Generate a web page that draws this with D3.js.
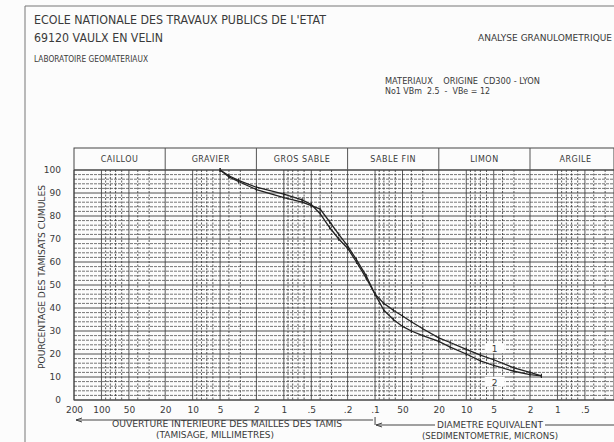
<!DOCTYPE html>
<html>
<head>
<meta charset="utf-8">
<script src="https://cdn.jsdelivr.net/npm/d3@7"></script>
<style>
  body { margin: 0; background: #fcfcfc; }
  svg { display: block; }
  text { font-family: "DejaVu Sans", sans-serif; fill: #3a3a3a; white-space: pre; }
</style>
</head>
<body>
<svg id="chart" width="614" height="442"></svg>
<script>
// --- data (sizes in mm, passing percent) ---
const sizes = [5, 4, 3.15, 2, 1, 0.63, 0.5, 0.4, 0.315, 0.25, 0.2, 0.16, 0.125, 0.1, 0.08, 0.063,
               0.05, 0.04, 0.03, 0.02, 0.015, 0.01, 0.007, 0.005, 0.003, 0.002, 0.0015];
const curve1 = [100, 97.5, 95.5, 92.5, 89.5, 87, 85, 81, 75, 70, 66, 60, 53, 46, 42, 39,
                36.5, 34, 31, 27, 25, 22, 19.5, 17.5, 14, 12, 10.5];
const curve2 = [100, 97, 95, 91.5, 88, 86, 84.5, 83, 77.5, 72, 67, 61, 54, 46, 39, 35,
                32, 30, 28, 25.5, 23, 20, 17, 15, 12.5, 11, 10.5];
const classNames = ["CAILLOU", "GRAVIER", "GROS SABLE", "SABLE FIN", "LIMON", "ARGILE"];
const classBounds = [200, 20, 2, 0.2, 0.02, 0.002, 0.0002];
const tickSizes = [200, 100, 50, 20, 10, 5, 2, 1, 0.5, 0.2, 0.1, 0.05, 0.02, 0.01, 0.005, 0.002, 0.001, 0.0005];
const tickLabels = ["200", "100", "50", "20", "10", "5", "2", "1", ".5", ".2", ".1", "50", "20", "10", "5", "2", "1", ".5"];
const yTicks = [0, 10, 20, 30, 40, 50, 60, 70, 80, 90, 100];

const svg = d3.select("#chart");

// --- scales ---
const x = d3.scaleLog().domain([200, 0.0002]).range([74, 74 + 91.2 * 6]);
const y = d3.scaleLinear().domain([0, 100]).range([400, 170]);
const headerTop = 148;

// --- frame ---
svg.append("path")
    .attr("d", "M25,442 V6 H614")
    .attr("fill", "none").attr("stroke", "#777").attr("stroke-width", 1);

// --- header text ---
function txt(s, xx, yy, size, len, anchor) {
    const t = svg.append("text").attr("x", xx).attr("y", yy)
        .style("font-size", size + "px").text(s);
    if (len) t.attr("textLength", len).attr("lengthAdjust", "spacingAndGlyphs");
    if (anchor) t.attr("text-anchor", anchor);
    return t;
}
txt("ECOLE NATIONALE DES TRAVAUX PUBLICS DE L'ETAT", 34, 24, 12, 292);
txt("69120 VAULX EN VELIN", 34, 42, 12, 129);
txt("ANALYSE GRANULOMETRIQUE", 478, 41, 8, 134);
txt("LABORATOIRE GEOMATERIAUX", 34, 62, 8, 114);
txt("MATERIAUX    ORIGINE  CD300 - LYON", 385, 84, 8, 155);
txt("No1 VBm  2.5  -  VBe = 12", 385, 94, 8, 105);

// --- grid ---
const grid = svg.append("g");
const hLines = d3.range(0, 101, 2);
grid.selectAll(".h").data(hLines).enter().append("line")
    .attr("x1", x(200)).attr("x2", 614)
    .attr("y1", d => y(d)).attr("y2", d => y(d))
    .attr("stroke", "#3c3c3c")
    .attr("stroke-width", d => d % 10 === 0 ? 0.9 : 0.7)
    .attr("stroke-dasharray", d => d % 10 === 0 ? null : "3,1");

const vVals = [];
for (let e = 2; e >= -4; e--) {
    for (let n = 9; n >= 1; n--) {
        const v = n * Math.pow(10, e);
        if (v <= 200 && v >= 0.0002) vVals.push(v);
    }
}
grid.selectAll(".v").data(vVals).enter().append("line")
    .attr("x1", d => x(d)).attr("x2", d => x(d))
    .attr("y1", y(100)).attr("y2", y(0))
    .attr("stroke", "#333")
    .attr("stroke-width", 0.8)
    .attr("stroke-dasharray", d => {
        const n = Math.round(d / Math.pow(10, Math.floor(Math.log10(d) + 1e-9)));
        return (n === 1 || n === 2 || n === 5) ? null : "2,1.5";
    });

// plot border
svg.append("rect")
    .attr("x", x(200)).attr("y", headerTop)
    .attr("width", 614 - x(200)).attr("height", y(0) - headerTop)
    .attr("fill", "none").attr("stroke", "#444").attr("stroke-width", 1);
svg.append("line")
    .attr("x1", x(200)).attr("x2", 614)
    .attr("y1", y(100)).attr("y2", y(100))
    .attr("stroke", "#444");

// --- header classes ---
const cls = classNames.map((name, i) => ({ name, a: classBounds[i], b: classBounds[i + 1] }));
svg.selectAll(".div").data(classBounds.slice(1, -1)).enter().append("line")
    .attr("x1", d => x(d)).attr("x2", d => x(d))
    .attr("y1", headerTop).attr("y2", y(100))
    .attr("stroke", "#555");
svg.selectAll(".cls").data(cls).enter().append("text")
    .attr("x", d => (x(d.a) + Math.min(x(d.b), 614 + 30)) / 2)
    .attr("y", headerTop + 14)
    .attr("text-anchor", "middle")
    .style("font-size", "8px")
    .style("letter-spacing", "0.5px")
    .text(d => d.name);

// --- axes ---
const xAxis = svg.append("g")
    .attr("transform", `translate(0,${y(0) + 4})`)
    .call(d3.axisBottom(x).tickValues(tickSizes).tickSize(0)
        .tickFormat((d, i) => tickLabels[i]));
xAxis.select(".domain").remove();
xAxis.selectAll("text").style("font-size", "9px").attr("fill", "#3a3a3a")
    .style("font-family", "DejaVu Sans, sans-serif");

const yAxis = svg.append("g")
    .attr("transform", `translate(${x(200) - 10},0)`)
    .call(d3.axisLeft(y).tickValues(yTicks).tickSize(0));
yAxis.select(".domain").remove();
yAxis.selectAll("text").style("font-size", "9px").attr("fill", "#3a3a3a")
    .style("font-family", "DejaVu Sans, sans-serif");

svg.append("text")
    .attr("transform", `translate(45,${(y(0) + y(100)) / 2 - 8}) rotate(-90)`)
    .attr("text-anchor", "middle")
    .style("font-size", "8px")
    .attr("textLength", 184).attr("lengthAdjust", "spacingAndGlyphs")
    .text("POURCENTAGE DES TAMISATS CUMULES");

// --- curves ---
const line = d3.line().x(d => x(d[0])).y(d => y(d[1]));
[curve1, curve2].forEach(c => {
    const pts = sizes.map((s, i) => [s, c[i]]);
    svg.append("path").datum(pts)
        .attr("d", line)
        .attr("fill", "none").attr("stroke", "#222").attr("stroke-width", 1.3);
    svg.selectAll(null).data(pts).enter().append("line")
        .attr("x1", d => x(d[0])).attr("x2", d => x(d[0]))
        .attr("y1", d => y(d[1]) - 2).attr("y2", d => y(d[1]) + 2)
        .attr("stroke", "#222").attr("stroke-width", 1);
});

// curve labels
const labelAt = 0.005;
[["1", 17.5 + 5], ["2", 15 - 7]].forEach(([lab, v]) => {
    const cx = x(labelAt), cy = y(v);
    svg.append("rect").attr("x", cx - 9).attr("y", cy - 5)
        .attr("width", 20).attr("height", 10).attr("fill", "#fcfcfc");
    svg.append("text").attr("x", cx + 1).attr("y", cy + 4)
        .attr("text-anchor", "middle").style("font-size", "9px").text(lab);
});

// --- bottom arrows & titles ---
const ax = svg.append("g").attr("stroke", "#444").attr("fill", "none").attr("stroke-width", 1);
ax.append("path").attr("d", `M${x(200) + 2},420 H${x(0.1) - 2}`);
ax.append("path").attr("d", `M${x(200) + 8},418 L${x(200) + 2},420 L${x(200) + 8},422`);
ax.append("path").attr("d", `M${x(0.1)},417 V425 M${x(0.1) + 1},425 H435 M545,425 H614`);
ax.append("path").attr("d", `M${x(0.1) + 7},423 L${x(0.1) + 1},425 L${x(0.1) + 7},427`);

txt("OUVERTURE INTERIEURE DES MAILLES DES TAMIS", 112, 427, 8, 230);
txt("(TAMISAGE, MILLIMETRES)", 215, 438, 8, 118, "middle");
txt("DIAMETRE EQUIVALENT", 490, 428, 8, 106, "middle");
txt("(SEDIMENTOMETRIE, MICRONS)", 490, 439, 8, 136, "middle");
</script>
</body>
</html>
